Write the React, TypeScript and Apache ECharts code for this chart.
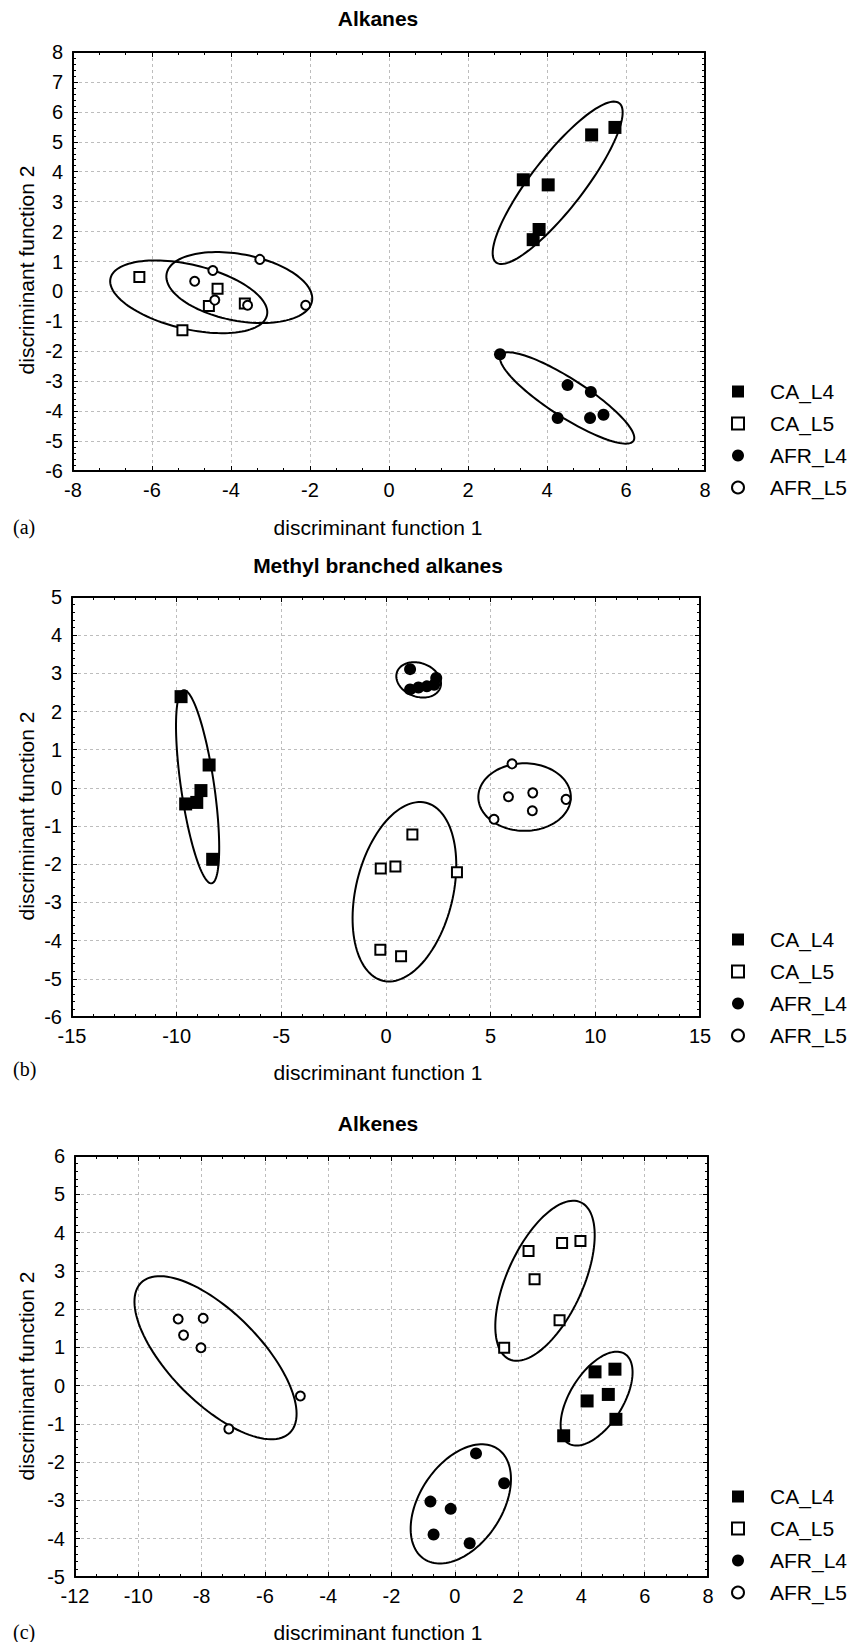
import React, { useEffect, useRef } from 'react';
import * as echarts from 'echarts';

// ---------- data ----------
const groupNames = ['CA_L4', 'CA_L5', 'AFR_L4', 'AFR_L5'];
const panelTitles = ['Alkanes', 'Methyl branched alkanes', 'Alkenes'];
const panelLetters = ['(a)', '(b)', '(c)'];
const xAxisTitle = 'discriminant function 1';
const yAxisTitle = 'discriminant function 2';

// [min, max, interval]
const xLimits = [[-8, 8, 2], [-15, 15, 5], [-12, 8, 2]];
const yLimits = [[-6, 8, 1], [-6, 5, 1], [-5, 6, 1]];
const xMinorSplits = [3, 5, 3];
const yMinorSplits = [5, 5, 5];

// (a) Alkanes
const alkanesCA_L4 = [[3.40, 3.73], [4.03, 3.56], [5.13, 5.23], [5.72, 5.48], [3.80, 2.07], [3.65, 1.73]];
const alkanesCA_L5 = [[-6.32, 0.48], [-4.34, 0.09], [-4.56, -0.49], [-3.65, -0.40], [-5.23, -1.30]];
const alkanesAFR_L4 = [[2.81, -2.10], [4.52, -3.13], [5.11, -3.36], [4.27, -4.23], [5.09, -4.23], [5.43, -4.12]];
const alkanesAFR_L5 = [[-3.27, 1.07], [-4.46, 0.70], [-4.92, 0.34], [-4.41, -0.29], [-3.58, -0.46], [-2.11, -0.46]];

// (b) Methyl branched alkanes
const methylCA_L4 = [[-9.79, 2.39], [-8.45, 0.60], [-8.84, -0.07], [-9.04, -0.38], [-9.57, -0.42], [-8.28, -1.87]];
const methylCA_L5 = [[1.26, -1.22], [-0.25, -2.11], [0.45, -2.06], [3.39, -2.21], [-0.27, -4.24], [0.72, -4.41]];
const methylAFR_L4 = [[1.15, 3.11], [1.15, 2.58], [1.55, 2.63], [1.95, 2.66], [2.30, 2.70], [2.40, 2.88]];
const methylAFR_L5 = [[6.02, 0.63], [5.85, -0.23], [7.01, -0.13], [8.60, -0.30], [6.99, -0.60], [5.16, -0.82]];

// (c) Alkenes
const alkenesCA_L4 = [[4.43, 0.36], [5.06, 0.43], [4.18, -0.40], [4.85, -0.23], [5.09, -0.88], [3.44, -1.31]];
const alkenesCA_L5 = [[2.33, 3.52], [3.39, 3.73], [3.97, 3.78], [2.52, 2.78], [3.31, 1.71], [1.56, 0.99]];
const alkenesAFR_L4 = [[0.67, -1.77], [1.56, -2.55], [-0.77, -3.03], [-0.13, -3.22], [-0.67, -3.89], [0.47, -4.12]];
const alkenesAFR_L5 = [[-8.74, 1.74], [-7.95, 1.76], [-8.57, 1.32], [-8.02, 0.99], [-4.88, -0.27], [-7.14, -1.13]];

// confidence ellipses: [centerX, centerY, majorEndX, majorEndY, minor/major ratio]
const alkanesEllipses = [[4.27, 3.63, 5.83, 6.29, 0.26], [-5.07, -0.18, -3.09, -0.80, 0.40], [4.51, -3.56, 6.19, -4.99, 0.24], [-3.79, 0.13, -1.95, -0.33, 0.45]];
const methylEllipses = [[-9.0, 0.03, -8.33, -2.5, 0.17], [0.88, -2.72, 1.91, -0.39, 0.53], [1.56, 2.83, 2.59, 2.62, 0.73], [6.62, -0.24, 8.83, -0.24, 0.73]];
const alkenesEllipses = [[4.48, -0.34, 5.37, 0.83, 0.50], [2.85, 2.74, 3.98, 4.79, 0.44], [0.19, -3.09, 1.35, -1.65, 0.62], [-7.56, 0.73, -5.21, -1.23, 0.43]];

const panelGroups = [
  [alkanesCA_L4, alkanesCA_L5, alkanesAFR_L4, alkanesAFR_L5],
  [methylCA_L4, methylCA_L5, methylAFR_L4, methylAFR_L5],
  [alkenesCA_L4, alkenesCA_L5, alkenesAFR_L4, alkenesAFR_L5],
];
const panelEllipses = [alkanesEllipses, methylEllipses, alkenesEllipses];

// ---------- layout ----------
const boxes = [
  { left: 73, top: 52, width: 632, height: 419 },
  { left: 72, top: 597, width: 628, height: 420 },
  { left: 75, top: 1156, width: 633, height: 421 },
];
const titleY = [18, 565, 1123];
const xNameY = [527, 1072, 1632];
const letterY = [527, 1069, 1632];
const yNameY = [270, 816, 1376];
const legendTop = [376, 924, 1481];

const SANS = '"Liberation Sans", Arial, sans-serif';
const SERIF = '"Liberation Serif", "Times New Roman", serif';

const SQUARE = 'path://M0,0L10,0L10,10L0,10Z';

const groupStyles = [
  { symbol: 'rect', symbolSize: 13, legendIcon: SQUARE, itemStyle: { color: '#000', opacity: 1 } },
  { symbol: 'rect', symbolSize: 10, legendIcon: SQUARE, itemStyle: { color: '#fff', borderColor: '#000', borderWidth: 2, opacity: 1 } },
  { symbol: 'circle', symbolSize: 12, legendIcon: 'circle', itemStyle: { color: '#000', opacity: 1 } },
  { symbol: 'circle', symbolSize: 9, legendIcon: 'circle', itemStyle: { color: '#fff', borderColor: '#000', borderWidth: 2, opacity: 1 } },
];

function ellipseRender(params: any, api: any) {
  const c = api.coord([api.value(0), api.value(1)]);
  const e = api.coord([api.value(2), api.value(3)]);
  const r = api.value(4);
  const ux = e[0] - c[0];
  const uy = e[1] - c[1];
  const vx = -uy * r;
  const vy = ux * r;
  const pts: number[][] = [];
  const n = 120;
  for (let i = 0; i < n; i++) {
    const t = (i / n) * Math.PI * 2;
    pts.push([c[0] + ux * Math.cos(t) + vx * Math.sin(t), c[1] + uy * Math.cos(t) + vy * Math.sin(t)]);
  }
  return {
    type: 'polygon',
    shape: { points: pts },
    style: { fill: 'none', stroke: '#000', lineWidth: 2 },
  };
}

function buildOption() {
  const grid: any[] = [];
  const xAxis: any[] = [];
  const yAxis: any[] = [];
  const series: any[] = [];
  const legend: any[] = [];
  const graphic: any[] = [];

  for (let p = 0; p < 3; p++) {
    const b = boxes[p];
    grid.push({ left: b.left, top: b.top, width: b.width, height: b.height, containLabel: false });
    const [xmin, xmax, xint] = xLimits[p];
    const [ymin, ymax, yint] = yLimits[p];
    const axisLine = { show: true, onZero: false, lineStyle: { color: '#000', width: 2 } };
    const tick = { show: true, inside: true, length: 5, lineStyle: { color: '#000', width: 1 } };
    const splitLine = { show: true, lineStyle: { color: '#bdbdbd', width: 1, type: [3, 3] } };
    const label = { show: true, color: '#000', fontSize: 20, fontFamily: SANS, showMinLabel: true, showMaxLabel: true };

    xAxis.push({
      type: 'value', gridIndex: p, position: 'bottom', min: xmin, max: xmax, interval: xint,
      axisLine, axisTick: tick,
      minorTick: { show: true, splitNumber: xMinorSplits[p], length: 3, lineStyle: { color: '#000', width: 1 } },
      splitLine, axisLabel: { ...label, margin: 9 },
    });
    xAxis.push({
      type: 'value', gridIndex: p, position: 'top', min: xmin, max: xmax, interval: xint,
      axisLine, axisTick: tick,
      minorTick: { show: true, splitNumber: xMinorSplits[p], length: 3, lineStyle: { color: '#000', width: 1 } },
      splitLine: { show: false }, axisLabel: { show: false },
    });
    yAxis.push({
      type: 'value', gridIndex: p, position: 'left', min: ymin, max: ymax, interval: yint,
      axisLine, axisTick: tick,
      minorTick: { show: true, splitNumber: yMinorSplits[p], length: 3, lineStyle: { color: '#000', width: 1 } },
      splitLine, axisLabel: { ...label, margin: 10 },
    });
    yAxis.push({
      type: 'value', gridIndex: p, position: 'right', min: ymin, max: ymax, interval: yint,
      axisLine, axisTick: tick,
      minorTick: { show: true, splitNumber: yMinorSplits[p], length: 3, lineStyle: { color: '#000', width: 1 } },
      splitLine: { show: false }, axisLabel: { show: false },
    });

    series.push({
      type: 'custom',
      name: 'ellipses-' + p,
      xAxisIndex: 2 * p,
      yAxisIndex: 2 * p,
      renderItem: ellipseRender,
      encode: { x: [0, 2], y: [1, 3] },
      data: panelEllipses[p],
      clip: false,
      silent: true,
      z: 1,
    });

    panelGroups[p].forEach((pts, g) => {
      series.push({
        type: 'scatter',
        name: groupNames[g],
        xAxisIndex: 2 * p,
        yAxisIndex: 2 * p,
        data: pts,
        symbol: groupStyles[g].symbol,
        symbolSize: groupStyles[g].symbolSize,
        itemStyle: groupStyles[g].itemStyle,
        z: 3,
      });
    });

    legend.push({
      orient: 'vertical',
      left: 726,
      top: legendTop[p],
      itemWidth: 54,
      itemHeight: 12,
      itemGap: 11,
      selectedMode: false,
      symbolKeepAspect: true,
      data: groupNames.map((name, g) => ({ name, icon: groupStyles[g].legendIcon })),
      textStyle: { color: '#000', fontSize: 21, fontFamily: SANS, lineHeight: 20 },
    });

    graphic.push({
      type: 'text', x: 378, y: titleY[p],
      style: { text: panelTitles[p], align: 'center', verticalAlign: 'middle', font: 'bold 21px ' + SANS, fill: '#000' },
    });
    graphic.push({
      type: 'text', x: 378, y: xNameY[p],
      style: { text: xAxisTitle, align: 'center', verticalAlign: 'middle', font: '21px ' + SANS, fill: '#000' },
    });
    graphic.push({
      type: 'text', x: 26, y: yNameY[p], rotation: Math.PI / 2,
      style: { text: yAxisTitle, align: 'center', verticalAlign: 'middle', font: '21px ' + SANS, fill: '#000' },
    });
    graphic.push({
      type: 'text', x: 13, y: letterY[p],
      style: { text: panelLetters[p], align: 'left', verticalAlign: 'middle', font: '20px ' + SERIF, fill: '#000' },
    });
  }

  return {
    animation: false,
    backgroundColor: '#fff',
    grid, xAxis, yAxis, series, legend, graphic,
  };
}

export default function App() {
  const ref = useRef<HTMLDivElement>(null);
  useEffect(() => {
    if (!ref.current) return;
    const chart = echarts.init(ref.current, undefined, { renderer: 'svg' });
    chart.setOption(buildOption() as any);
    return () => chart.dispose();
  }, []);
  return (
    <div
      ref={ref}
      style={{ position: 'absolute', left: 0, top: 0, width: 864, height: 1642, background: '#fff' }}
    />
  );
}
